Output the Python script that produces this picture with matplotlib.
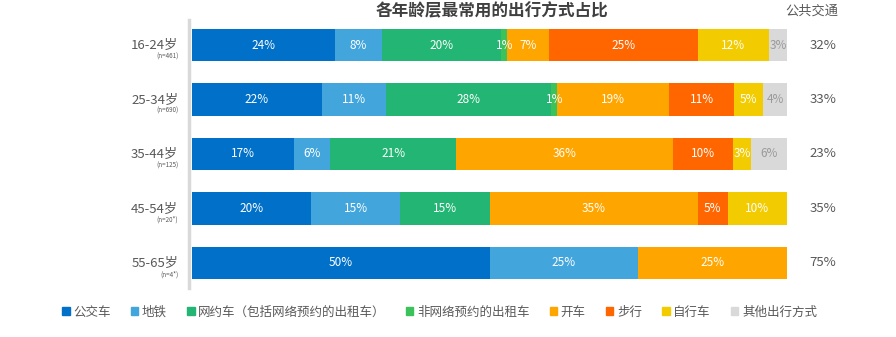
import matplotlib.pyplot as plt
from matplotlib.patches import Patch
import numpy as np

plt.rcParams['font.family'] = ['Noto Sans CJK SC', 'DejaVu Sans']

# data (top to bottom)
ages = ['16-24岁', '25-34岁', '35-44岁', '45-54岁', '55-65岁']
samples = ['(n=461)', '(n=690)', '(n=125)', '(n=20*)', '(n=4*)']
modes = ['公交车', '地铁', '网约车（包括网络预约的出租车）', '非网络预约的出租车',
         '开车', '步行', '自行车', '其他出行方式']
shares = np.array([
    [24, 8, 20, 1, 7, 25, 12, 3],
    [22, 11, 28, 1, 19, 11, 5, 4],
    [17, 6, 21, 0, 36, 10, 3, 6],
    [20, 15, 15, 0, 35, 5, 10, 0],
    [50, 25, 0, 0, 25, 0, 0, 0],
])
public_transport = ['32%', '33%', '23%', '35%', '75%']

colors = ['#0070C8', '#42A5DC', '#22B573', '#3CC25A',
          '#FFA500', '#FF6600', '#F2CC00', '#D9D9D9']
txt_colors = ['white'] * 7 + ['#9A9A9A']
grey = '#595959'

fig = plt.figure(figsize=(8.96, 3.37), dpi=100)
ax = fig.add_axes([192 / 896, 1 - 288 / 337, 595 / 896, 268 / 337])

y = np.arange(len(ages))
widths = shares / shares.sum(axis=1, keepdims=True) * 100
left = np.zeros(len(ages))
for j in range(len(modes)):
    ax.barh(y, widths[:, j], left=left, height=0.59, color=colors[j], linewidth=0)
    for i in range(len(ages)):
        if shares[i, j] > 0:
            ax.text(left[i] + widths[i, j] / 2, y[i], f'{shares[i, j]}%',
                    ha='center', va='center', fontsize=8.5, color=txt_colors[j])
    left += widths[:, j]

ax.set_xlim(0, 100)
ax.set_ylim(4.459, -0.459)
ax.set_xticks([])
ax.set_yticks([])
for s in ['top', 'right', 'bottom']:
    ax.spines[s].set_visible(False)
ax.spines['left'].set_color('#D9D9D9')
ax.spines['left'].set_linewidth(2.5)
ax.spines['left'].set_position(('outward', 2))

for i in range(len(ages)):
    ax.text(-2.3, y[i] + 0.01, ages[i], ha='right', va='center', fontsize=9.5, color=grey)
    ax.text(-2.3, y[i] + 0.21, samples[i], ha='right', va='center', fontsize=4.5, color=grey)
    ax.text(106, y[i], public_transport[i], ha='center', va='center', fontsize=9.5, color=grey)

fig.text(812 / 896, 1 - 11 / 337, '公共交通', ha='center', va='center', fontsize=9.5, color=grey)
fig.text(492 / 896, 1 - 11 / 337, '各年龄层最常用的出行方式占比', ha='center', va='center',
         fontsize=12, fontweight='bold', color='#404040')

handles = [Patch(color=c) for c in colors]
fig.legend(handles, modes, loc='center left', bbox_to_anchor=(62 / 896, 1 - 312 / 337),
           ncol=8, frameon=False, fontsize=9, labelcolor=grey,
           handlelength=0.6, handleheight=0.6, handletextpad=0.3, columnspacing=1.6,
           borderaxespad=0, borderpad=0)

fig.savefig('out.png', dpi=100)
